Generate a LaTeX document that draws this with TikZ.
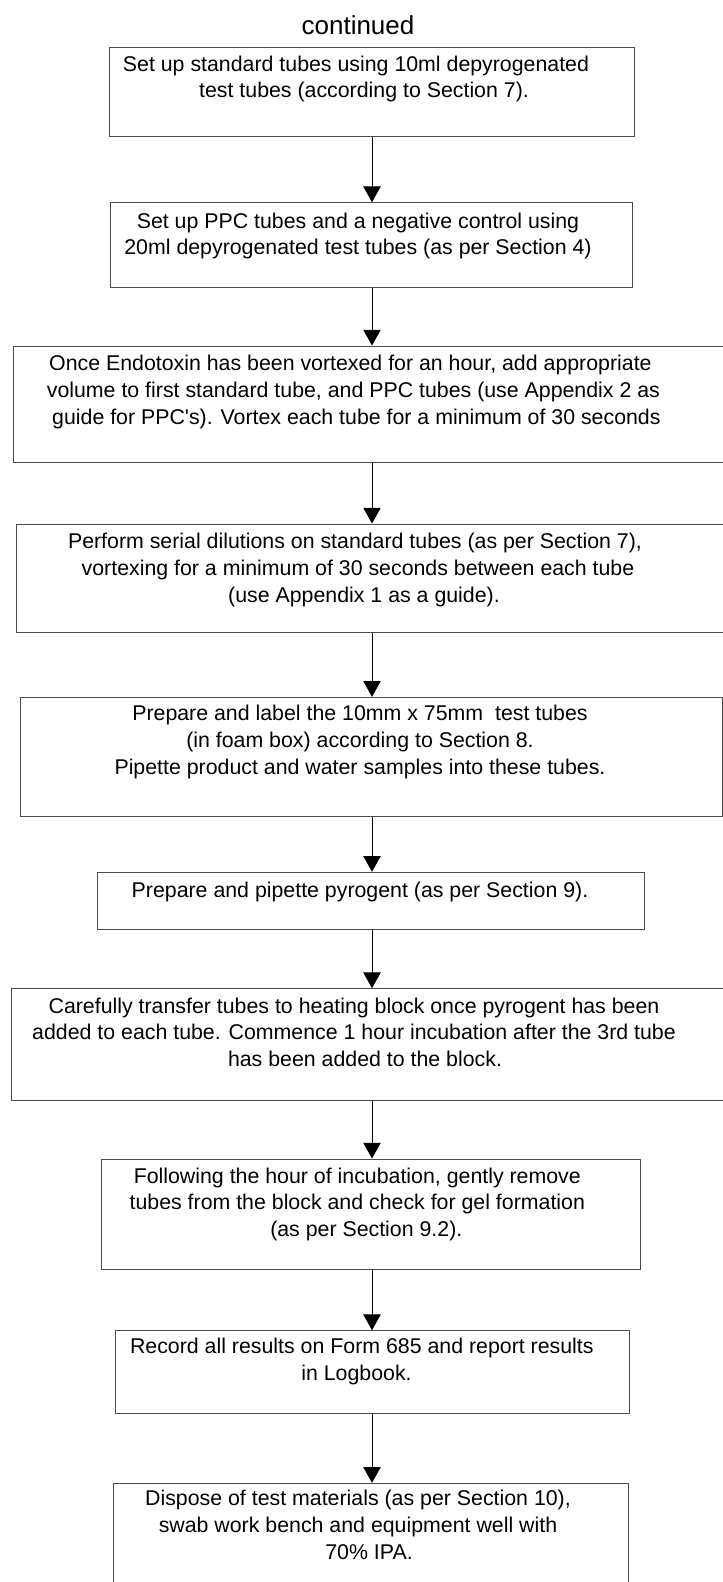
\documentclass[tikz,border=0pt]{standalone}
\usepackage{fontspec}
\setmainfont{Liberation Sans}
\usetikzlibrary{shapes,arrows.meta,fit,positioning}
\definecolor{boxgray}{rgb}{.3,.3,.3}
\def\Pad#1{\hspace*{#1}}% leading space of a line, as in the scan

\begin{document}
\begin{tikzpicture}[% 1 unit is 1 pixel of the scan, y runs downwards
		x=0.75pt, y=-0.75pt,
		every node/.style={
			align=center,  		% use this so that the "\\" for line break works
			inner sep=0pt,
			font=\fontsize{16}{20}\selectfont
		},
		box/.style={rectangle,draw=boxgray,line width=0.75pt},
		step text/.style={anchor=base},	% base = baseline of the last line
		every edge/.style={draw,line width=0.75pt},
		>={Triangle[width=13pt,length=11.8pt]}
	]
	\useasboundingbox (0,0) rectangle (723,1582);
	\node[anchor=base,font=\fontsize{19.5}{23}\selectfont](Head) at (358,34.3){continued};
	% boxes
	\node[box,fit={(109,47.3) (634,136.7)}](B1){};
	\node[box,fit={(110.6,202.7) (632.6,287)}](B2){};
	\node[box,fit={(13.8,346) (730,462.7)}](B3){};
	\node[box,fit={(16,524) (730,632)}](B4){};
	\node[box,fit={(20.3,697.3) (722,816)}](B5){};
	\node[box,fit={(97.3,872.3) (644,929.3)}](B6){};
	\node[box,fit={(11.5,988.7) (730,1100.3)}](B7){};
	\node[box,fit={(101.4,1159) (640,1269.3)}](B8){};
	\node[box,fit={(115.3,1330.7) (629.3,1413.3)}](B9){};
	\node[box,fit={(113.5,1483.3) (628,1600)}](B10){};
	% texts
	\node[step text](L1) at (356,97.7){Set up standard tubes using 10ml depyrogenated\\\Pad{12pt}test tubes (according to Section 7).};
	\node[step text](L2) at (358,254.7){Set up PPC tubes and a negative control using\\20ml depyrogenated test tubes (as per Section 4)};
	\node[step text](L3) at (350.4,424){Once Endotoxin has been vortexed for an hour, add appropriate\\\Pad{4.5pt}volume to first standard tube, and PPC tubes (use Appendix 2 as\\\Pad{9pt}guide for PPC\textquotesingle s). Vortex each tube for a minimum of 30 seconds};
	\node[step text](L4) at (355,602){Perform serial dilutions on standard tubes (as per Section 7),\\\Pad{4.5pt}vortexing for a minimum of 30 seconds between each tube\\\Pad{13.5pt}(use Appendix 1 as a guide).};
	\node[step text](L5) at (360,774.3){Prepare and label the 10mm x 75mm\ \ test tubes\\(in foam box) according to Section 8.\\Pipette product and water samples into these tubes.};
	\node[step text](L6) at (360,897){Prepare and pipette pyrogent (as per Section 9).};
	\node[step text](L7) at (354,1066.6){Carefully transfer tubes to heating block once pyrogent has been\\added to each tube. Commence 1 hour incubation after the 3rd tube\\\Pad{16.5pt}has been added to the block.};
	\node[step text](L8) at (357.3,1236.6){Following the hour of incubation, gently remove\\tubes from the block and check for gel formation\\\Pad{13.5pt}(as per Section 9.2).};
	\node[step text](L9) at (356.5,1380){\Pad{8pt}Record all results on Form 685 and report results\\in Logbook.};
	\node[step text](L10) at (358,1559.3){Dispose of test materials (as per Section 10),\\swab work bench and equipment well with\\\Pad{16.5pt}70\% IPA.};
	% arrows, all on one vertical line
	\coordinate (M) at (372,0);
	\path[->]
	(B1.south -| M)edge (B2.north -| M)
	(B2.south -| M)edge (B3.north -| M)
	(B3.south -| M)edge (B4.north -| M)
	(B4.south -| M)edge (B5.north -| M)
	(B5.south -| M)edge (B6.north -| M)
	(B6.south -| M)edge (B7.north -| M)
	(B7.south -| M)edge (B8.north -| M)
	(B8.south -| M)edge (B9.north -| M)
	(B9.south -| M)edge (B10.north -| M)
	;
\end{tikzpicture}
\end{document}
